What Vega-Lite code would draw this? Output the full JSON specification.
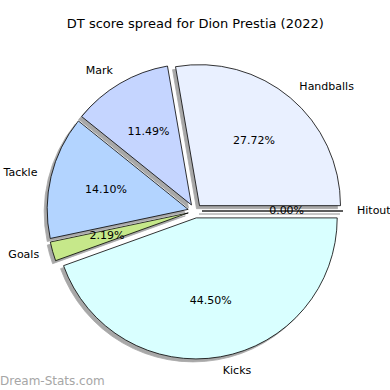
{
  "$schema": "https://vega.github.io/schema/vega-lite/v6.json",
  "padding": {"top": 18, "left": 0, "right": 0, "bottom": 0},
  "background": "white",
  "title": {"text": "DT score spread for Dion Prestia (2022)", "anchor": "middle", "fontSize": 13, "fontWeight": "normal", "font": "DejaVu Sans", "color": "#000000", "offset": 20},
  "config": {"view": {"stroke": null}, "font": "DejaVu Sans"},
  "data": {"values": [
    {"label": "Hitout", "share": 0.0, "rank": 0},
    {"label": "Kicks", "share": 0.4450, "rank": 1},
    {"label": "Goals", "share": 0.0219, "rank": 2},
    {"label": "Tackle", "share": 0.1410, "rank": 3},
    {"label": "Mark", "share": 0.1149, "rank": 4},
    {"label": "Handballs", "share": 0.2772, "rank": 5}
  ]},
  "vconcat": [{
    "width": 390,
    "height": 320,
    "title": {"text": "Dream-Stats.com", "orient": "bottom", "anchor": "start", "fontSize": 12, "fontWeight": "normal", "font": "DejaVu Sans", "color": "#a6a6a6", "offset": 0},
    "encoding": {
      "theta": {"field": "share", "type": "quantitative", "stack": true, "scale": {"range": [1.5707963, 7.8539816]}},
      "order": {"field": "rank", "type": "quantitative"}
    },
    "layer": [
      {
        "mark": {"type": "arc", "radius": 141, "fill": "#a8a8a8", "stroke": "#a8a8a8", "strokeWidth": 0.8,
          "xOffset": {"expr": "7*sin(PI/2+PI*(datum.share_start+datum.share_end)) - 3"},
          "yOffset": {"expr": "-7*cos(PI/2+PI*(datum.share_start+datum.share_end)) + 3"}}
      },
      {
        "mark": {"type": "arc", "radius": 141, "stroke": "#000000", "strokeWidth": 0.8,
          "xOffset": {"expr": "7*sin(PI/2+PI*(datum.share_start+datum.share_end))"},
          "yOffset": {"expr": "-7*cos(PI/2+PI*(datum.share_start+datum.share_end))"}},
        "encoding": {
          "color": {"field": "label", "type": "nominal", "legend": null,
            "scale": {"domain": ["Hitout", "Kicks", "Goals", "Tackle", "Mark", "Handballs"],
                      "range": ["#f0f0f0", "#d9ffff", "#c6e88a", "#b3d4ff", "#c5d5ff", "#e9f0ff"]}}
        }
      },
      {
        "mark": {"type": "text", "radius": 155, "fontSize": 11, "baseline": "middle", "color": "#000000",
          "align": {"expr": "sin(PI/2+PI*(datum.share_start+datum.share_end)) >= 0 ? 'left' : 'right'"},
          "xOffset": {"expr": "7*sin(PI/2+PI*(datum.share_start+datum.share_end))"},
          "yOffset": {"expr": "-7*cos(PI/2+PI*(datum.share_start+datum.share_end))"}},
        "encoding": {"text": {"field": "label", "type": "nominal"}}
      },
      {
        "mark": {"type": "text", "radius": 84.6, "fontSize": 11, "baseline": "middle", "align": "center", "color": "#000000",
          "xOffset": {"expr": "7*sin(PI/2+PI*(datum.share_start+datum.share_end))"},
          "yOffset": {"expr": "-7*cos(PI/2+PI*(datum.share_start+datum.share_end))"}},
        "encoding": {"text": {"field": "share", "type": "quantitative", "format": ".2%"}}
      }
    ]
  }]
}
